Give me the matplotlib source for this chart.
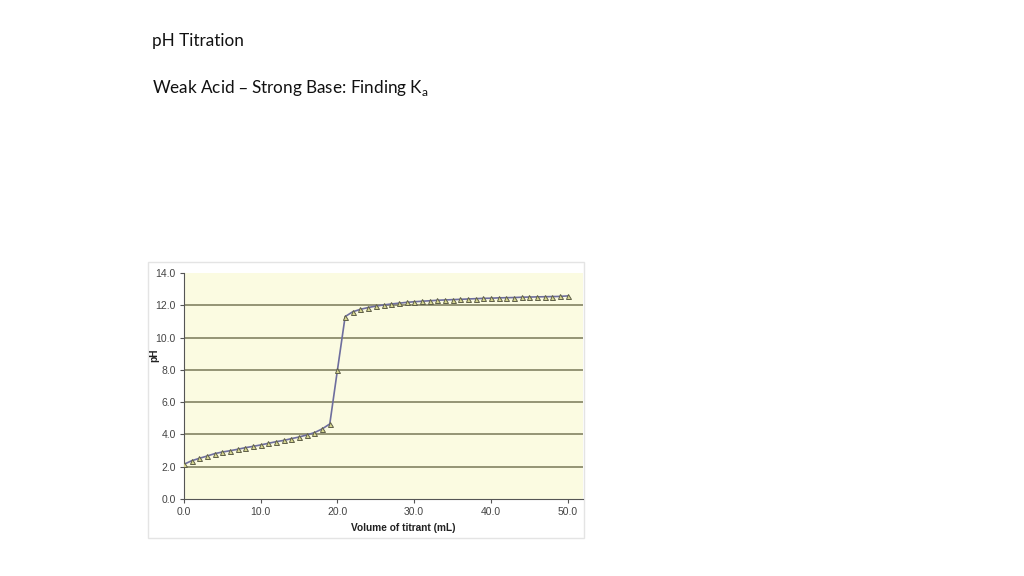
import numpy as np
import matplotlib
matplotlib.use("Agg")
import matplotlib.pyplot as plt
from matplotlib.patches import Rectangle

# titration data
volume = list(range(0, 51))
ph = [2.15, 2.37, 2.52, 2.66, 2.81, 2.91, 2.99, 3.08, 3.18, 3.26,
      3.35, 3.45, 3.55, 3.63, 3.74, 3.84, 3.97, 4.11, 4.34, 4.65,
      8.00, 11.30, 11.60, 11.75, 11.86, 11.95, 12.02, 12.08, 12.13, 12.18,
      12.22, 12.25, 12.28, 12.31, 12.33, 12.35, 12.37, 12.39, 12.41, 12.43,
      12.44, 12.46, 12.47, 12.48, 12.50, 12.51, 12.52, 12.53, 12.54, 12.55,
      12.58]
yticks = [0, 2, 4, 6, 8, 10, 12, 14]
xticks = [0, 10, 20, 30, 40, 50]

W, H = 1024, 576
fig = plt.figure(figsize=(W / 100, H / 100), dpi=100)
fig.patch.set_facecolor("white")

# slide text
title_font = ["Lato", "DejaVu Sans"]
fig.text(152 / W, 1 - 41 / H, "pH Titration", fontsize=12.3,
         family=title_font, va="center", ha="left", color="#111111")
fig.text(152 / W, 1 - 88 / H, r"Weak Acid – Strong Base: Finding K$_\mathregular{a}$",
         fontsize=12.3, family=title_font, va="center", ha="left", color="#111111")

# chart panel (white card behind the plot)
fig.patches.append(Rectangle((148 / W, 1 - 538 / H), (584 - 148) / W, (538 - 262) / H,
                             transform=fig.transFigure, facecolor="white",
                             edgecolor="#e4e4e4", lw=1, zorder=-5))

ax = fig.add_axes([184 / W, 1 - 499 / H, (583 - 184) / W, (499 - 273) / H])
ax.set_zorder(2)
ax.set_facecolor("#fbfbe1")
ax.set_xlim(0, 52)
ax.set_ylim(0, 14)

for y in yticks[1:-1]:
    ax.axhline(y, color="#8c8c6c", lw=1.3, zorder=1)

ax.plot(volume, ph, "-", color="#6e6e9e", lw=1.2, zorder=2)
ax.plot(volume, ph, "^", ms=3.6, mfc="#d8d890", mec="#5e5e48", mew=0.7, zorder=3)

tick_font = ["Liberation Sans", "DejaVu Sans"]
ax.set_yticks(yticks)
ax.set_yticklabels([f"{v:.1f}" for v in yticks], fontsize=7.5, family=tick_font, color="#444444")
ax.set_xticks(xticks)
ax.set_xticklabels([f"{v:.1f}" for v in xticks], fontsize=7.5, family=tick_font, color="#444444")
ax.tick_params(direction="out", length=3, width=0.8, color="#555555", pad=3)

for s in ["top", "right"]:
    ax.spines[s].set_visible(False)
for s in ["left", "bottom"]:
    ax.spines[s].set_color("#555555")
    ax.spines[s].set_linewidth(0.8)

ax.set_xlabel("Volume of titrant (mL)", fontsize=7.3, family=tick_font,
              fontweight="bold", color="#222222")
ax.set_ylabel("pH", fontsize=7.3, family=tick_font, fontweight="bold",
              color="#222222")
ax.xaxis.set_label_coords(0.549, -0.106)
ax.yaxis.set_label_coords(-0.063, 0.637)

fig.savefig("out.png", dpi=100)
